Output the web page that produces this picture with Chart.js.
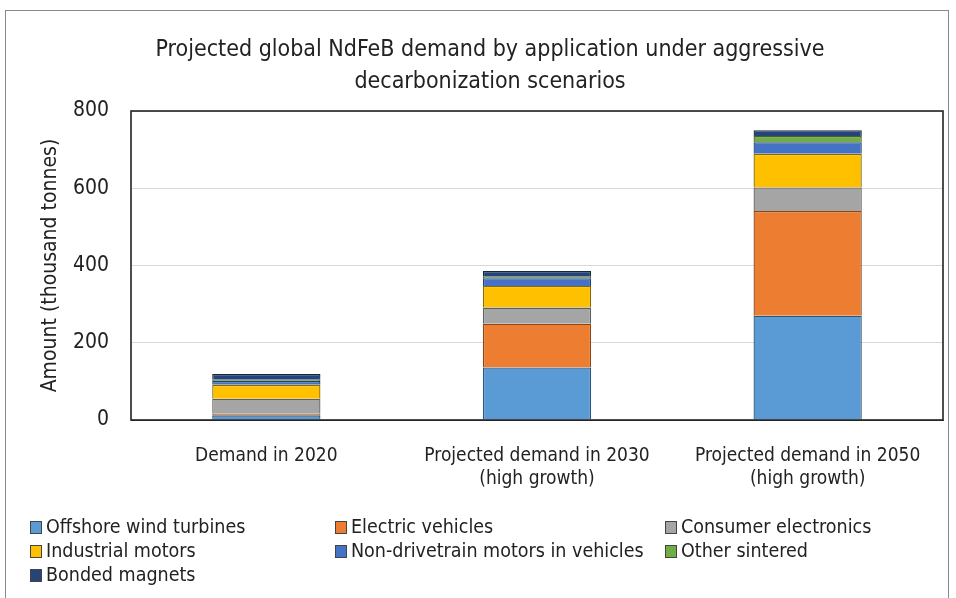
<!DOCTYPE html>
<html>
<head>
<meta charset="utf-8">
<script src="https://cdn.jsdelivr.net/npm/chart.js@4.4.1/dist/chart.umd.min.js"></script>
<style>
  body { margin: 0; background: #fff; }
  #wrap { position: relative; width: 956px; height: 598px; overflow: hidden; font-family: "Liberation Sans Narrow", "DejaVu Sans Condensed", sans-serif; color: #222; }
  #frame { position: absolute; left: 5px; top: 10px; width: 944px; height: 600px; border: 1px solid #8a8a8a; box-sizing: border-box; }
  #title { position: absolute; left: 0; width: 980px; top: 32px; text-align: center; font-size: 23px; line-height: 32px; }
  #legend { position: absolute; left: 30px; top: 516px; font-size: 19.5px; }
  .item { position: absolute; white-space: nowrap; height: 22px; line-height: 22px; }
  .box { display: inline-block; width: 10px; height: 11px; border: 1px solid #444; margin-right: 4px; vertical-align: -1px; }
</style>
</head>
<body>
<div id="wrap">
  <canvas id="chart" width="956" height="598"></canvas>
  <div id="frame"></div>
  <div id="title">Projected global NdFeB demand by application under aggressive<br>decarbonization scenarios</div>
  <div id="legend"></div>
</div>
<script>
const categories = [
  "Demand in 2020",
  ["Projected demand in 2030", "(high growth)"],
  ["Projected demand in 2050", "(high growth)"],
];
const seriesNames = [
  "Offshore wind turbines",
  "Electric vehicles",
  "Consumer electronics",
  "Industrial motors",
  "Non-drivetrain motors in vehicles",
  "Other sintered",
  "Bonded magnets",
];
const offshoreWind = [12, 136, 270];
const electricVehicles = [5, 113, 271];
const consumerElectronics = [38, 42, 61];
const industrialMotors = [36, 56, 87];
const nonDrivetrain = [10, 20, 30];
const otherSintered = [3, 4, 16];
const bondedMagnets = [15, 15, 15];
const yTicks = [0, 200, 400, 600, 800];

const colors = ["#5b9bd5", "#ed7d31", "#a5a5a5", "#ffc000", "#4472c4", "#70ad47", "#264478"];
const edges = ["#2c5578", "#8a4519", "#5e5e5e", "#8a6a00", "#233f70", "#3f6627", "#15263f"];
const values = [offshoreWind, electricVehicles, consumerElectronics, industrialMotors, nonDrivetrain, otherSintered, bondedMagnets];

const font = "'Liberation Sans Narrow', 'DejaVu Sans Condensed', sans-serif";

// frame around the plot area
const plotBorder = {
  id: "plotBorder",
  afterDraw(c) {
    const a = c.chartArea;
    const ctx = c.ctx;
    ctx.save();
    ctx.strokeStyle = "#222";
    ctx.lineWidth = 1.6;
    ctx.strokeRect(Math.round(a.left), Math.round(a.top), Math.round(a.right - a.left), Math.round(a.bottom - a.top));
    ctx.restore();
  },
};

new Chart(document.getElementById("chart"), {
  type: "bar",
  data: {
    labels: categories,
    datasets: seriesNames.map((name, i) => ({
      label: name,
      data: values[i],
      backgroundColor: colors[i],
      borderColor: edges[i],
      borderWidth: 1.3,
      barPercentage: 0.4,
      categoryPercentage: 1,
    })),
  },
  options: {
    responsive: false,
    animation: false,
    layout: { padding: { left: 38, right: 13, top: 111, bottom: 0 } },
    plugins: {
      legend: { display: false },
      tooltip: { enabled: false },
    },
    scales: {
      x: {
        stacked: true,
        grid: { display: false },
        border: { color: "#333" },
        ticks: { color: "#222", font: { family: font, size: 19 }, padding: 17, maxRotation: 0 },
        afterFit: (s) => { s.height = 178; },
      },
      y: {
        stacked: true,
        min: 0,
        max: 800,
        afterBuildTicks: (s) => { s.ticks = yTicks.map((v) => ({ value: v })); },
        grid: { color: "#d9d9d9", drawTicks: false },
        border: { display: false },
        ticks: { color: "#222", font: { family: font, size: 21 }, padding: 22 },
        title: { display: true, text: "Amount (thousand tonnes)", color: "#222", font: { family: font, size: 21 }, padding: 0 },
        afterFit: (s) => { s.width = 93; },
      },
    },
  },
  plugins: [plotBorder],
});

const legend = document.getElementById("legend");
const spots = [[0, 0], [305, 0], [635, 0], [0, 24], [305, 24], [635, 24], [0, 48]];
seriesNames.forEach((name, i) => {
  const el = document.createElement("div");
  el.className = "item";
  el.style.left = spots[i][0] + "px";
  el.style.top = spots[i][1] + "px";
  el.innerHTML = '<span class="box" style="background:' + colors[i] + '"></span>' + name;
  legend.appendChild(el);
});
</script>
</body>
</html>
